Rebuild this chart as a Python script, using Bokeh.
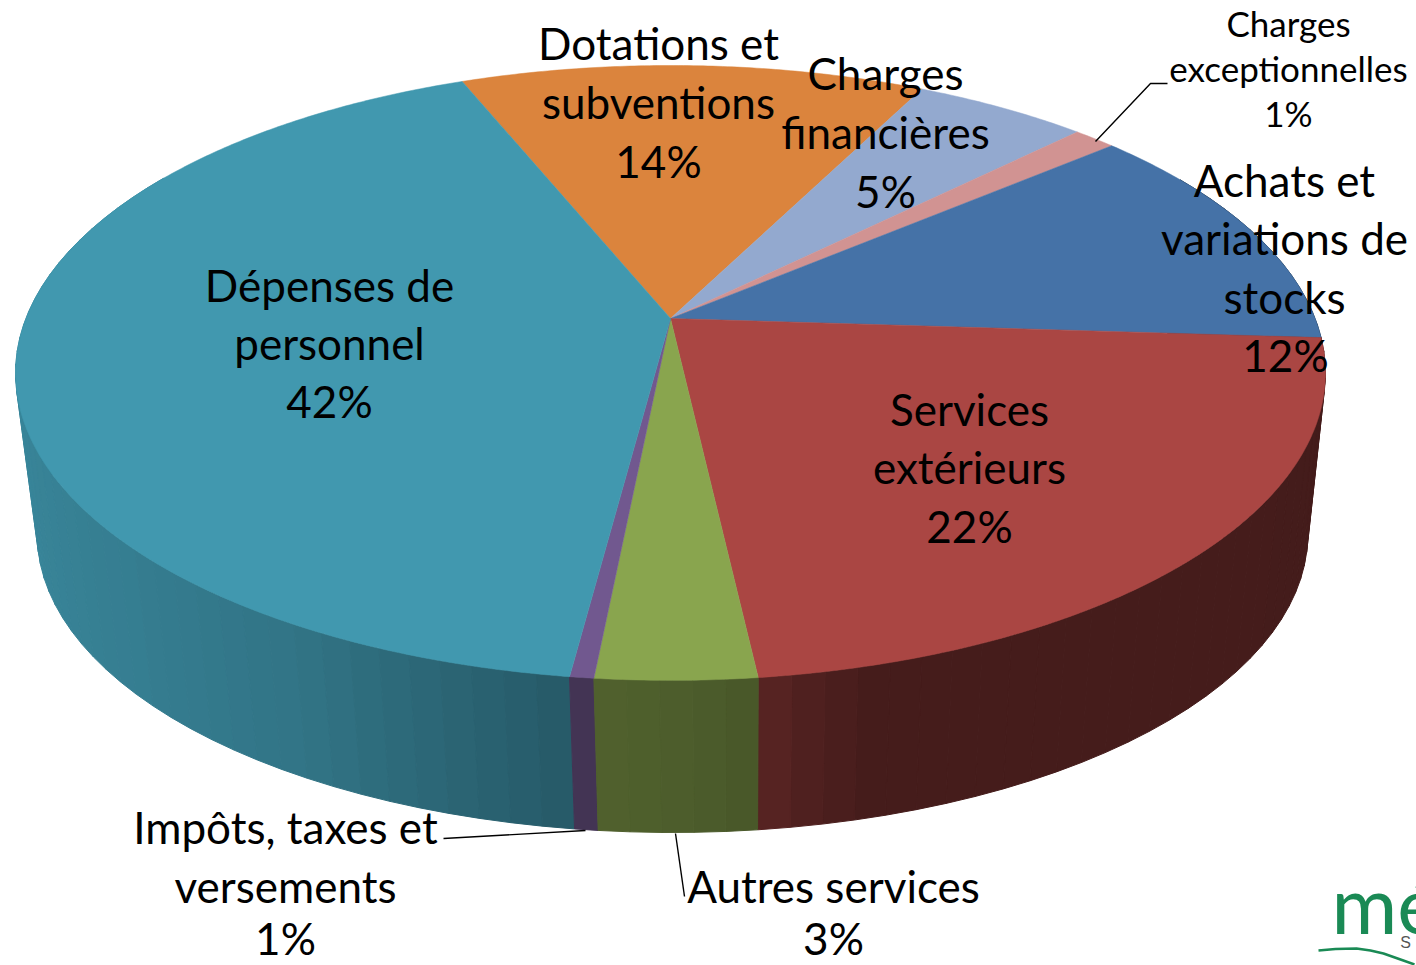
import numpy as np
from bokeh.plotting import figure
from bokeh.models import Range1d
from bokeh.core.properties import value
from bokeh.embed import file_html
from bokeh.resources import INLINE

categories = ["Dotations et subventions", "Charges financières", "Charges exceptionnelles",
              "Achats et variations de stocks", "Services extérieurs", "Autres services",
              "Impôts, taxes et versements", "Dépenses de personnel"]
values = [13.6, 5.1, 1.25, 12.2, 22.2, 3.35, 0.5, 41.8]
percent_labels = ["14%", "5%", "1%", "12%", "22%", "3%", "1%", "42%"]
colors = ["#DB843D", "#93A9CF", "#D19392", "#4572A7", "#AA4643", "#89A54E", "#71588F", "#4198AF"]

START = -22.1
CX, CY, A, B, K = 670.0, 318.0, 644.6, 297.8, 0.177   # perspective of the top disc
BOTTOM_Y, BOTTOM_SCALE_X, BOTTOM_SCALE_Y = 481.0, 0.97, 0.97
FONT = "Lato"


def project(theta_deg, top=True):
    t = np.radians(theta_deg)
    u, v = np.sin(t), np.cos(t)
    w = 1 + K * v
    if top:
        return CX + A * u / w, CY - B * v / w
    return CX + 2 + BOTTOM_SCALE_X * A * u / w, BOTTOM_Y - BOTTOM_SCALE_Y * B * v / w


def shade(c, f):
    r, g, b = int(c[1:3], 16), int(c[3:5], 16), int(c[5:7], 16)
    return "#%02x%02x%02x" % (int(r * f), int(g * f), int(b * f))


edges = START + np.concatenate([[0], np.cumsum(values)]) / sum(values) * 360.0

p = figure(width=1416, height=965, x_range=Range1d(0, 1416), y_range=Range1d(965, 0),
           output_backend="svg", toolbar_location=None, min_border=0, outline_line_color=None)
p.axis.visible = False
p.grid.visible = False

# side wall, in narrow shaded strips, painted from the back towards the viewer
strips = []
STEP = 2.5
for i, c in enumerate(colors):
    a0, a1 = edges[i], edges[i + 1]
    n = max(1, int(np.ceil((a1 - a0) / STEP)))
    grid = np.linspace(a0, a1, n + 1)
    for g0, g1 in zip(grid[:-1], grid[1:]):
        mid = ((g0 + g1) / 2) % 360
        if mid < 60 or mid > 300:
            continue
        f = np.interp(mid, [60, 165, 170, 173, 178, 188, 197, 210, 228, 260, 300],
                      [.40, .41, .47, .52, .56, .60, .67, .77, .83, .89, .90])
        th = np.array([g0, g1])
        xt, yt = project(th, True)
        xb, yb = project(th, False)
        strips.append((abs(mid - 180), [xt[0], xt[1], xb[1], xb[0]], [yt[0], yt[1], yb[1], yb[0]], shade(c, f)))
strips.sort(key=lambda s: -s[0])
p.patches([s[1] for s in strips], [s[2] for s in strips], fill_color=[s[3] for s in strips],
          line_color=[s[3] for s in strips], line_width=1.0)

# top disc
for i, c in enumerate(colors):
    th = np.linspace(edges[i], edges[i + 1], max(3, int((edges[i + 1] - edges[i]) * 2)))
    x, y = project(th, True)
    p.patch(np.r_[CX, x], np.r_[CY, y], fill_color=c, line_color=c, line_width=0.5)

# leader lines
leaders = [([1095, 1150, 1167], [141, 83, 83]),
           ([443, 585], [838, 830]),
           ([675, 684], [833, 896])]
for lx, ly in leaders:
    p.line(lx, ly, line_color="black", line_width=1.4)

# labels
label_lines = [
    ("Dotations et", 658, 42, 44), ("subventions", 658, 101, 44), (percent_labels[0], 658, 160, 44),
    ("Charges", 885, 72, 44), ("financières", 885, 131, 44), (percent_labels[1], 885, 190, 44),
    ("Charges", 1288, 22, 35), ("exceptionnelles", 1288, 67, 35), (percent_labels[2], 1288, 112, 35),
    ("Achats et", 1284, 179, 44), ("variations de", 1284, 237, 44), ("stocks", 1284, 296, 44),
    (percent_labels[3], 1285, 354, 44),
    ("Services", 969, 408, 44), ("extérieurs", 969, 466, 44), (percent_labels[4], 969, 525, 44),
    ("Autres services", 833, 885, 44), (percent_labels[5], 833, 937, 44),
    ("Impôts, taxes et", 285, 826, 44), ("versements", 285, 885, 44), (percent_labels[6], 285, 937, 44),
    ("Dépenses de", 329, 284, 44), ("personnel", 329, 342, 44), (percent_labels[7], 329, 400, 44),
]
for txt, x, y, s in label_lines:
    p.text([x], [y], text=[txt], text_align="center", text_baseline="middle",
           text_font=value(FONT), text_font_size=f"{s}px", text_color="black")

# logo fragment
p.text([1331], [902], text=["mé"], text_font=value("Lato"), text_font_size="80px",
       text_baseline="middle", text_color="#1A8A55")
p.text([1405], [942], text=["S"], text_font=value("Liberation Sans"), text_font_size="16px",
       text_align="center", text_baseline="middle", text_color="#555555")
p.line([1318, 1335, 1356, 1370, 1383, 1400, 1414], [950, 948.5, 948, 950, 953, 959, 964],
       line_color="#1A8A55", line_width=2.5)

open("out.html", "w").write(file_html(p, INLINE))
